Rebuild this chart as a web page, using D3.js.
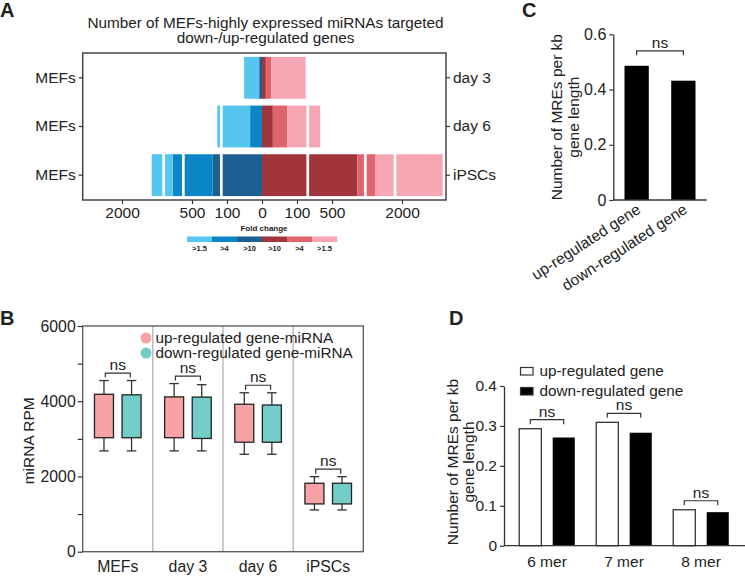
<!DOCTYPE html>
<html><head><meta charset="utf-8">
<script src="https://cdn.jsdelivr.net/npm/d3@7"></script>
<style>
body{margin:0;background:#fff}
svg{display:block}
text{font-family:"Liberation Sans",Arial,sans-serif;fill:#222}
</style>
</head><body>
<svg id="c" width="745" height="578"></svg>
<script>
// ---------------- DATA ----------------
// Panel A
const rowsA = ["day 3", "day 6", "iPSCs"];
const rowsALeft = ["MEFs", "MEFs", "MEFs"];
const downG10 = [8, 0, 263];
const downG4 = [0, 34, 651];
const downG15 = [43, 177, 450];
const upG10 = [11, 31, 1042];
const upG4 = [15, 41, 379];
const upG15 = [173, 294, 1451];
const breaksA = [-1107, -686, -165, 223, 1214, 1850];
const ticksA = [-2000, -500, -100, 0, 100, 500, 2000];
const foldLabels = [">1.5", ">4", ">10", ">10", ">4", ">1.5"];
const titleA = ["Number of MEFs-highly expressed miRNAs targeted", "down-/up-regulated genes"];
// Panel B
const groupsB = ["MEFs", "day 3", "day 6", "iPSCs"];
const seriesB = ["up-regulated gene-miRNA", "down-regulated gene-miRNA"];
const upWhiskHi = [4550, 4470, 4225, 1995];
const upBoxHi = [4185, 4115, 3920, 1820];
const upBoxLo = [3030, 3030, 2910, 1270];
const upWhiskLo = [2680, 2680, 2590, 1110];
const downWhiskHi = [4550, 4440, 4225, 1995];
const downBoxHi = [4170, 4110, 3900, 1820];
const downBoxLo = [3030, 3010, 2910, 1270];
const downWhiskLo = [2680, 2680, 2590, 1110];
const ticksB = [0, 1000, 2000, 3000, 4000, 5000, 6000];
// Panel C
const catsC = ["up-regulated gene", "down-regulated gene"];
const valuesC = [0.486, 0.432];
const ticksC = [0, 0.2, 0.4, 0.6];
// Panel D
const catsD = ["6 mer", "7 mer", "8 mer"];
const seriesD = ["up-regulated gene", "down-regulated gene"];
const upD = [0.293, 0.309, 0.090];
const downD = [0.271, 0.283, 0.084];
const ticksD = [0, 0.1, 0.2, 0.3, 0.4];

// ---------------- DRAW ----------------
const svg = d3.select("#c");
const FS = 15.5;
const dark = "#333";
const cNavy = "#1b5f93", cMid = "#0a86c7", cLight = "#57c6ef";
const cDred = "#a2353b", cRed = "#e0646e", cPink = "#f7a6b4";

function styleAxis(g, fs) {
  g.selectAll("text").style("font-size", (fs || FS) + "px").attr("fill", "#222");
  g.selectAll("line").attr("stroke", dark).attr("stroke-width", 1.2);
  g.selectAll("path.domain").attr("stroke", dark).attr("stroke-width", 1.3);
}
function panelLetter(t, x, y) {
  svg.append("text").attr("x", x).attr("y", y).text(t)
    .style("font-size", "20px").style("font-weight", "bold").attr("fill", "#000");
}
function bracket(x1, x2, y) {
  svg.append("path").attr("d", `M${x1},${y + 4.5}V${y}H${x2}V${y + 4.5}`)
    .attr("fill", "none").attr("stroke", dark).attr("stroke-width", 1.2);
  svg.append("text").attr("x", (x1 + x2) / 2).attr("y", y - 3).attr("text-anchor", "middle")
    .style("font-size", FS + "px").text("ns");
}

// ===== Panel A =====
panelLetter("A", 0, 17);
const aL = 82.7, aR = 446, aT = 53, aB = 200, aC = 262;
const offA = [-140, -70, -35, 0, 35, 70, 140];
const xA = d3.scaleLinear().domain(ticksA).range(offA.map(o => aC + o));
const yA = d3.scaleBand().domain(rowsA).range([aT, aB]).paddingInner(0.14).paddingOuter(0.08);

svg.append("g").selectAll("text").data(titleA).join("text")
  .attr("x", 265.5).attr("y", (d, i) => 28 + i * 15).attr("text-anchor", "middle")
  .style("font-size", "15.3px").text(d => d);

const segs = [];
rowsA.forEach((r, i) => {
  let c = 0;
  [[downG10, cNavy], [downG4, cMid], [downG15, cLight]].forEach(([arr, col]) => {
    segs.push({ row: r, x0: -c - arr[i], x1: -c, col }); c += arr[i];
  });
  c = 0;
  [[upG10, cDred], [upG4, cRed], [upG15, cPink]].forEach(([arr, col]) => {
    segs.push({ row: r, x0: c, x1: c + arr[i], col }); c += arr[i];
  });
});
svg.append("g").selectAll("rect").data(segs.filter(s => s.x1 > s.x0)).join("rect")
  .attr("x", d => xA(d.x0)).attr("width", d => xA(d.x1) - xA(d.x0))
  .attr("y", d => yA(d.row)).attr("height", yA.bandwidth()).attr("fill", d => d.col);
svg.append("g").selectAll("rect").data(breaksA).join("rect")
  .attr("x", d => xA(d) - 1.35).attr("width", 2.7)
  .attr("y", aT + 1).attr("height", aB - aT - 2).attr("fill", "#fff");
svg.append("rect").attr("x", aL).attr("y", aT).attr("width", aR - aL).attr("height", aB - aT)
  .attr("fill", "none").attr("stroke", "#444").attr("stroke-width", 1.5);

const gAx = svg.append("g").attr("transform", `translate(0,${aB})`)
  .call(d3.axisBottom(xA).tickValues(ticksA).tickFormat(d => Math.abs(d)).tickSize(4).tickSizeOuter(0));
gAx.select(".domain").remove(); styleAxis(gAx);
const gAl = svg.append("g").attr("transform", `translate(${aL},0)`)
  .call(d3.axisLeft(yA).tickFormat((d, i) => rowsALeft[i]).tickSize(4).tickSizeOuter(0));
gAl.select(".domain").remove(); styleAxis(gAl);
const gAr = svg.append("g").attr("transform", `translate(${aR},0)`)
  .call(d3.axisRight(yA).tickSize(4).tickSizeOuter(0));
gAr.select(".domain").remove(); styleAxis(gAr);

// fold change legend
svg.append("text").attr("x", 264).attr("y", 231).attr("text-anchor", "middle")
  .style("font-size", "8px").style("font-weight", "bold").text("Fold change");
const legColors = [cLight, cMid, cNavy, cDred, cRed, cPink];
const xLeg = d3.scaleBand().domain(d3.range(foldLabels.length)).range([187, 337]);
svg.append("g").selectAll("rect").data(legColors).join("rect")
  .attr("x", (d, i) => xLeg(i)).attr("width", xLeg.bandwidth() + 0.3)
  .attr("y", 236.5).attr("height", 5.5).attr("fill", d => d);
svg.append("g").selectAll("text").data(foldLabels).join("text")
  .attr("x", (d, i) => xLeg(i) + xLeg.bandwidth() / 2).attr("y", 251).attr("text-anchor", "middle")
  .style("font-size", "7.5px").style("font-weight", "bold").attr("fill", "#333").text(d => d);

// ===== Panel B =====
panelLetter("B", 0, 325);
const bL = 82.7, bR = 363.3, bT = 326, bB = 551.7;
const xB = d3.scaleBand().domain(groupsB).range([bL, bR]);
const yB = d3.scaleLinear().domain([0, 6000]).range([bB, bT]);
svg.append("g").selectAll("line").data(groupsB.slice(1)).join("line")
  .attr("x1", d => xB(d)).attr("x2", d => xB(d)).attr("y1", bT).attr("y2", bB)
  .attr("stroke", "#9a9a9a").attr("stroke-width", 1);
svg.append("rect").attr("x", bL).attr("y", bT).attr("width", bR - bL).attr("height", bB - bT)
  .attr("fill", "none").attr("stroke", "#555").attr("stroke-width", 1.3);
const boxSeries = [
  { off: -13.8, col: "#f8a2a7", wh: upWhiskHi, bh: upBoxHi, bl: upBoxLo, wl: upWhiskLo },
  { off: 13.8, col: "#72cdc9", wh: downWhiskHi, bh: downBoxHi, bl: downBoxLo, wl: downWhiskLo }
];
const boxW = 19, capW = 9.5;
boxSeries.forEach(s => {
  groupsB.forEach((g, i) => {
    const cx = xB(g) + xB.bandwidth() / 2 + s.off;
    const gg = svg.append("g");
    gg.append("line").attr("x1", cx).attr("x2", cx).attr("y1", yB(s.wh[i])).attr("y2", yB(s.wl[i]))
      .attr("stroke", dark).attr("stroke-width", 1.3);
    [s.wh[i], s.wl[i]].forEach(v => gg.append("line").attr("x1", cx - capW / 2).attr("x2", cx + capW / 2)
      .attr("y1", yB(v)).attr("y2", yB(v)).attr("stroke", dark).attr("stroke-width", 1.3));
    gg.append("rect").attr("x", cx - boxW / 2).attr("width", boxW)
      .attr("y", yB(s.bh[i])).attr("height", yB(s.bl[i]) - yB(s.bh[i]))
      .attr("fill", s.col).attr("stroke", "#222").attr("stroke-width", 1.3);
  });
});
groupsB.forEach((g, i) => {
  const c = xB(g) + xB.bandwidth() / 2;
  const top = Math.max(upWhiskHi[i], downWhiskHi[i]);
  bracket(c - 12.5, c + 12.5, yB(top) - 7.5);
});
const gBy = svg.append("g").attr("transform", `translate(${bL},0)`)
  .call(d3.axisLeft(yB).tickValues(ticksB).tickFormat(d => d % 2000 === 0 ? d : "").tickSize(5).tickPadding(2).tickSizeOuter(0));
gBy.select(".domain").remove(); styleAxis(gBy, 15.8);
const gBx = svg.append("g").attr("transform", `translate(0,${bB})`)
  .call(d3.axisBottom(xB).tickSize(0).tickPadding(9));
gBx.select(".domain").remove(); styleAxis(gBx, 15.8);
svg.append("text").attr("transform", `translate(34,${(bT + bB) / 2 + 2}) rotate(-90)`)
  .attr("text-anchor", "middle").style("font-size", FS + "px").text("miRNA RPM");
const legB = svg.append("g");
seriesB.forEach((s, i) => {
  legB.append("circle").attr("cx", 146).attr("cy", 338 + i * 15).attr("r", 5.5)
    .attr("fill", boxSeries[i].col);
  legB.append("text").attr("x", 155.5).attr("y", 343 + i * 15).style("font-size", "15.3px").text(s);
});

// ===== Panel C =====
panelLetter("C", 522, 17);
const cL = 613.3, cR = 706.7, cT = 34.3, cB = 200;
const xC = d3.scaleBand().domain(catsC).range([cL, cR]).paddingInner(0.48).paddingOuter(0.24);
const yC = d3.scaleLinear().domain([0, 0.6]).range([cB, cT]);
svg.append("g").selectAll("rect").data(catsC).join("rect")
  .attr("x", d => xC(d)).attr("width", xC.bandwidth())
  .attr("y", (d, i) => yC(valuesC[i])).attr("height", (d, i) => cB - yC(valuesC[i]))
  .attr("fill", "#000");
const gCy = svg.append("g").attr("transform", `translate(${cL},0)`)
  .call(d3.axisLeft(yC).tickValues(ticksC).tickFormat(d => d === 0 ? "0" : d3.format(".1f")(d)).tickSize(4).tickSizeOuter(0));
styleAxis(gCy, 16);
svg.append("line").attr("x1", cL).attr("x2", cR).attr("y1", cB).attr("y2", cB)
  .attr("stroke", dark).attr("stroke-width", 1.3);
svg.append("g").selectAll("text").data(catsC).join("text")
  .attr("transform", d => `translate(${xC(d) + xC.bandwidth() / 2 + 5},${cB + 12}) rotate(-33)`)
  .attr("text-anchor", "end").style("font-size", FS + "px").text(d => d);
bracket(xC(catsC[0]) + xC.bandwidth() / 2, xC(catsC[1]) + xC.bandwidth() / 2, yC(d3.max(valuesC)) - 15);
svg.append("text").attr("transform", `translate(562,${(cT + cB) / 2}) rotate(-90)`)
  .attr("text-anchor", "middle").style("font-size", FS + "px").text("Number of MREs per kb");
svg.append("text").attr("transform", `translate(578.5,${(cT + cB) / 2}) rotate(-90)`)
  .attr("text-anchor", "middle").style("font-size", FS + "px").text("gene length");

// ===== Panel D =====
panelLetter("D", 449, 325);
const dL = 504, dR = 745, dT = 386, dB = 545.7;
const xD = d3.scaleBand().domain(catsD).range([508.5, 739.5]);
const xDs = d3.scaleBand().domain(seriesD).range([0, xD.bandwidth()]).paddingInner(0.34).paddingOuter(0.32);
const yD = d3.scaleLinear().domain([0, 0.4]).range([dB, dT]);
const dSeries = [{ vals: upD, fill: "#fff" }, { vals: downD, fill: "#000" }];
seriesD.forEach((s, si) => {
  svg.append("g").selectAll("rect").data(catsD).join("rect")
    .attr("x", d => xD(d) + xDs(s)).attr("width", xDs.bandwidth())
    .attr("y", (d, i) => yD(dSeries[si].vals[i]))
    .attr("height", (d, i) => dB - yD(dSeries[si].vals[i]))
    .attr("fill", dSeries[si].fill).attr("stroke", si === 0 ? "#333" : "none").attr("stroke-width", 1.3);
});
const gDy = svg.append("g").attr("transform", `translate(${dL},0)`)
  .call(d3.axisLeft(yD).tickValues(ticksD).tickFormat(d => d === 0 ? "0" : d3.format(".1f")(d)).tickSize(4).tickSizeOuter(0));
styleAxis(gDy);
svg.append("line").attr("x1", dL).attr("x2", dR).attr("y1", dB).attr("y2", dB)
  .attr("stroke", dark).attr("stroke-width", 1.3);
const gDx = svg.append("g").attr("transform", `translate(0,${dB})`)
  .call(d3.axisBottom(xD).tickSize(0).tickPadding(10));
gDx.select(".domain").remove(); styleAxis(gDx);
catsD.forEach((c, i) => {
  const x1 = xD(c) + xDs(seriesD[0]) + xDs.bandwidth() / 2;
  const x2 = xD(c) + xDs(seriesD[1]) + xDs.bandwidth() / 2;
  bracket(x1, x2, yD(Math.max(upD[i], downD[i])) - 9);
});
svg.append("text").attr("transform", `translate(458,462) rotate(-90)`)
  .attr("text-anchor", "middle").style("font-size", FS + "px").text("Number of MREs per kb");
svg.append("text").attr("transform", `translate(474,462) rotate(-90)`)
  .attr("text-anchor", "middle").style("font-size", FS + "px").text("gene length");
seriesD.forEach((s, i) => {
  svg.append("rect").attr("x", 520.5).attr("y", 367.5 + i * 20).attr("width", 12.5).attr("height", 7.5)
    .attr("fill", dSeries[i].fill).attr("stroke", "#333").attr("stroke-width", 1.2);
  svg.append("text").attr("x", 539.5).attr("y", 376 + i * 20).style("font-size", "15.3px").text(s);
});
</script>
</body></html>
